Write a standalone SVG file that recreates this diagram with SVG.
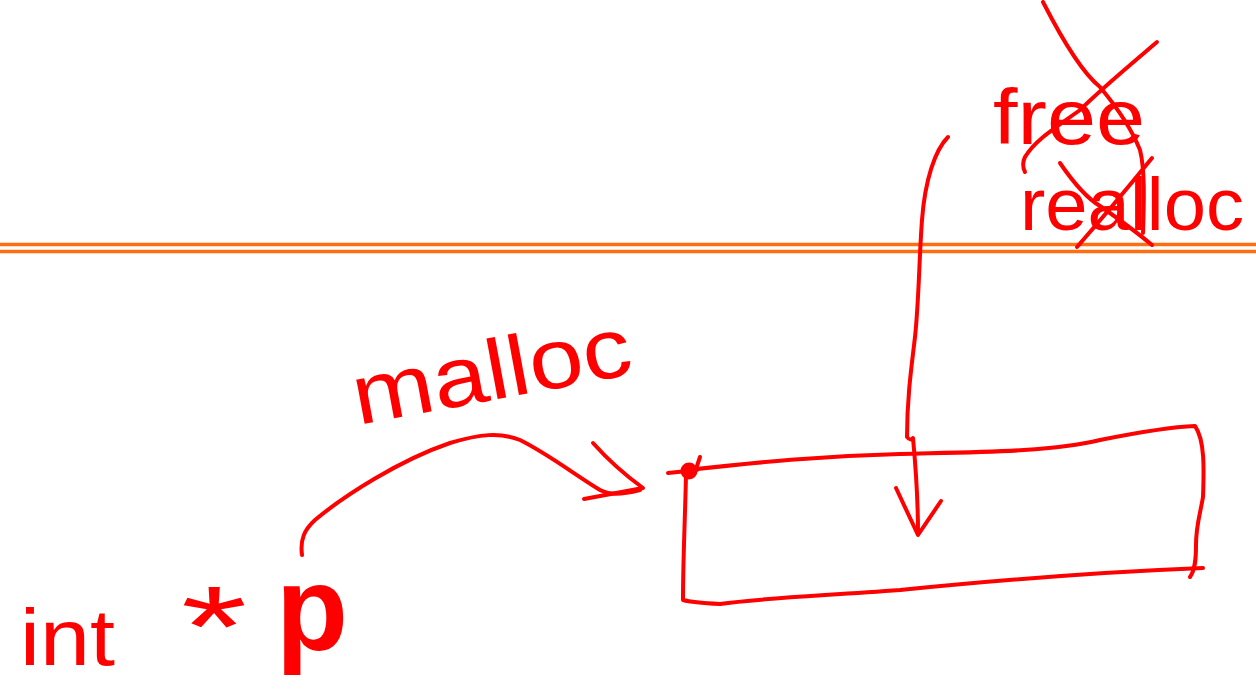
<svg xmlns="http://www.w3.org/2000/svg" width="1256" height="691" viewBox="0 0 1256 691">
<style>
.ink{fill:none;stroke:#ff0000;stroke-width:4;stroke-linecap:round;stroke-linejoin:round}
.sep{fill:none;stroke:#ff6f10;stroke-width:3.5}
.hand{fill:#ff0000;font-family:"Liberation Sans","DejaVu Sans",sans-serif}
</style>
<rect width="1256" height="691" fill="#ffffff"/>
<g id="separator">
<line class="sep" x1="0" y1="244.5" x2="1256" y2="244.5"/>
<line class="sep" x1="0" y1="251.5" x2="1256" y2="251.5"/>
</g>
<g id="heap-block">
<path class="ink" d="M688,470 C760,462 820,456 900,454 C980,452 1050,452 1100,440 C1140,432 1170,427 1195,426 C1205,440 1204,470 1203,497 C1200,515 1196,525 1196,545 C1196,560 1195,570 1190,577"/>
<path class="ink" d="M1203,568 C1100,572 1000,580 900,590 C820,596 760,598 720,604 C700,603 690,602 683,600 C683,560 685,520 686,475"/>
<circle cx="689" cy="471" r="8.5" fill="#ff0000"/>
<path class="ink" d="M668,473 L697,470 M697,466 L700,457" stroke-width="2.5"/>
</g>
<g id="pointer-decl">
<text class="hand" x="20" y="665" font-size="80" textLength="95" lengthAdjust="spacingAndGlyphs">int</text>
<text class="hand" x="181" y="666" font-size="115" textLength="66" lengthAdjust="spacingAndGlyphs">*</text>
<text class="hand" x="276" y="650" font-size="120" font-weight="bold" textLength="72" lengthAdjust="spacingAndGlyphs">p</text>
</g>
<g id="label-malloc">
<text class="hand" x="358" y="425" font-size="85" textLength="282" lengthAdjust="spacingAndGlyphs" transform="rotate(-10.5 358 425)">malloc</text>
</g>
<g id="label-free">
<text class="hand" x="993" y="144" font-size="78" textLength="152" lengthAdjust="spacingAndGlyphs">free</text>
<path class="ink" d="M1043,2 C1065,45 1085,75 1100,87 C1115,105 1130,125 1140,150 C1145,170 1144,200 1143,233"/>
<path class="ink" d="M1157,42 C1130,65 1100,90 1080,110 C1055,128 1035,140 1025,157 C1022,163 1023,168 1025,172"/>
</g>
<g id="label-realloc">
<text class="hand" x="1020" y="230" font-size="74" textLength="224" lengthAdjust="spacingAndGlyphs">realloc</text>
<path class="ink" d="M1060,163 C1075,185 1090,200 1100,206 C1120,220 1140,235 1152,245"/>
<path class="ink" d="M1152,158 C1130,185 1105,215 1077,247"/>
</g>
<g id="connectors">
<path class="ink" d="M302,555 C300,540 304,530 315,520 C345,495 400,460 450,443 C480,434 500,432 520,440 C550,455 575,475 600,490 C610,495 620,495 640,490"/>
<path class="ink" d="M593,443 C610,462 625,475 643,488 L584,499"/>
<path class="ink" d="M948,137 C935,150 925,180 922,220 C919,260 919,300 915,337 C911,370 907,400 907,437 C909,440 912,440 913,438 C916,470 918,500 918,533"/>
<path class="ink" d="M896,488 L918,535 L941,501"/>
</g>
</svg>
